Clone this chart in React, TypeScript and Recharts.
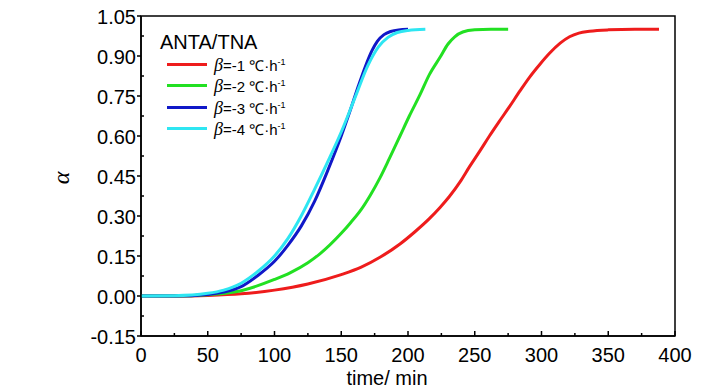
import React from "react";
import {
    LineChart,
    Line,
    XAxis,
    YAxis,
    Legend,
    ReferenceArea
} from "recharts";

// β = -1 ℃/h
const timeR = [0, 25, 50, 75, 100, 125, 150, 165, 179, 194, 205, 216, 224, 231, 239, 246, 254, 261, 268, 276, 284, 291, 299, 306, 314, 321, 328, 336, 350, 370, 388];
const alphaR = [0, 0, 0.002, 0.008, 0.022, 0.045, 0.08, 0.108, 0.145, 0.195, 0.24, 0.29, 0.332, 0.373, 0.428, 0.484, 0.545, 0.6, 0.652, 0.71, 0.77, 0.82, 0.87, 0.91, 0.948, 0.972, 0.986, 0.993, 0.998, 1.0, 1.0];
// β = -2 ℃/h
const timeG = [0, 25, 50, 75, 100, 112, 125, 134, 150, 157, 165, 172, 179, 186, 194, 201, 209, 216, 224, 230, 235, 241, 250, 262, 275];
const alphaG = [0, 0, 0.005, 0.02, 0.062, 0.088, 0.125, 0.158, 0.235, 0.275, 0.325, 0.38, 0.443, 0.515, 0.6, 0.675, 0.755, 0.83, 0.895, 0.945, 0.972, 0.99, 0.998, 1.0, 1.0];
// β = -3 ℃/h
const timeB = [0, 25, 50, 62, 75, 87, 100, 110, 120, 130, 140, 150, 157, 163, 168, 173, 177, 182, 187, 193, 200];
const alphaB = [0, 0, 0.006, 0.015, 0.035, 0.075, 0.13, 0.19, 0.262, 0.355, 0.472, 0.6, 0.7, 0.79, 0.86, 0.92, 0.955, 0.98, 0.992, 0.998, 1.0];
// β = -4 ℃/h
const timeC = [0, 25, 50, 62, 75, 87, 100, 110, 120, 130, 140, 150, 160, 170, 178, 185, 192, 200, 213];
const alphaC = [0, 0.001, 0.01, 0.022, 0.048, 0.09, 0.15, 0.215, 0.3, 0.4, 0.505, 0.615, 0.74, 0.865, 0.935, 0.97, 0.988, 0.996, 1.0];

const seriesNames = ["β=-1", "β=-2", "β=-3", "β=-4"];
const seriesColors = ["#ee1c1c", "#22e022", "#1018c8", "#2ee6f2"];

const xMajor = [0, 50, 100, 150, 200, 250, 300, 350, 400];
const xMinor = [25, 75, 125, 175, 225, 275, 325, 375];
const yMajor = [-0.15, 0, 0.15, 0.3, 0.45, 0.6, 0.75, 0.9, 1.05];
const yMinor = [-0.075, 0.075, 0.225, 0.375, 0.525, 0.675, 0.825, 0.975];

const toPoints = (ts: number[], as: number[]) => ts.map((t, i) => ({t: t, a: as[i]}));
const seriesData = [
    toPoints(timeR, alphaR),
    toPoints(timeG, alphaG),
    toPoints(timeB, alphaB),
    toPoints(timeC, alphaC)
];

const FONT = "'Liberation Sans', Arial, sans-serif";

const isMajor = (list: number[], v: number) => list.some((m) => Math.abs(m - v) < 1e-6);

const XTick = (props: any) => {
    const {x, y, payload} = props;
    const major = isMajor(xMajor, payload.value);
    return (
        <g>
            <line x1={x} x2={x} y1={y} y2={y - (major ? 5 : 3)} stroke="#000" strokeWidth={1.5}/>
            {major && (
                <text x={x} y={y + 26} textAnchor="middle" fontSize={20} fontFamily={FONT} fill="#000">
                    {payload.value}
                </text>
            )}
        </g>
    );
};

const YTick = (props: any) => {
    const {x, y, payload} = props;
    const major = isMajor(yMajor, payload.value);
    return (
        <g>
            {major
                ? <line x1={x - 4} x2={x} y1={y} y2={y} stroke="#000" strokeWidth={1.5}/>
                : <line x1={x} x2={x + 3} y1={y} y2={y} stroke="#000" strokeWidth={1.5}/>}
            {major && (
                <text x={x - 5} y={y + 8} textAnchor="end" fontSize={20} fontFamily={FONT} fill="#000">
                    {payload.value.toFixed(2)}
                </text>
            )}
        </g>
    );
};

const XTitle = (props: any) => {
    const {viewBox} = props;
    return (
        <text x={viewBox.x + viewBox.width / 2 - 21} y={385} textAnchor="middle" fontSize={20} fontFamily={FONT} fill="#000">
            time/ min
        </text>
    );
};

const LegendBox = () => (
    <div style={{position: "relative", width: 160, height: 120, fontFamily: FONT, color: "#000"}}>
        <div style={{position: "absolute", left: 5, top: 2, fontSize: 20, lineHeight: "24px", whiteSpace: "nowrap"}}>
            ANTA/TNA
        </div>
        {seriesNames.map((n, i) => (
            <div key={n} style={{position: "absolute", left: 0, top: 27 + i * 21.3, height: 20, whiteSpace: "nowrap"}}>
                <div style={{position: "absolute", left: 12, top: 8, width: 40, height: 3, background: seriesColors[i]}}/>
                <div style={{position: "absolute", left: 59, top: 0, fontSize: 15, lineHeight: "20px"}}>
                    <span style={{fontFamily: "'Liberation Serif', serif", fontStyle: "italic", fontSize: 18}}>β</span>
                    {n.slice(1)} ℃·h<sup style={{fontSize: 9, verticalAlign: "6px", lineHeight: 0}}>-1</sup>
                </div>
            </div>
        ))}
    </div>
);

const App = () => {
    return (
        <div style={{position: "absolute", left: 0, top: 0, width: 728, height: 390, background: "#fff"}}>
            <LineChart width={728} height={390} margin={{top: 16, right: 53, bottom: 24, left: 81}}>
                <XAxis type="number" dataKey="t" domain={[0, 400]} ticks={[...xMajor, ...xMinor].sort((a, b) => a - b)}
                       interval={0} tick={<XTick/>} tickLine={false} tickSize={0} tickMargin={0} height={30}
                       allowDataOverflow axisLine={{stroke: "#000", strokeWidth: 1.5}} label={<XTitle/>}/>
                <YAxis type="number" dataKey="a" domain={[-0.15, 1.05]} ticks={[...yMajor, ...yMinor].sort((a, b) => a - b)}
                       interval={0} tick={<YTick/>} tickLine={false} tickSize={0} tickMargin={0} width={60}
                       allowDataOverflow axisLine={{stroke: "#000", strokeWidth: 1.5}}/>
                <ReferenceArea x1={0} x2={400} y1={-0.15} y2={1.05} fill="none" stroke="#000" strokeWidth={1.5}/>
                {seriesData.map((d, i) => (
                    <Line key={seriesNames[i]} data={d} dataKey="a" name={seriesNames[i]} type="monotone"
                          stroke={seriesColors[i]} strokeWidth={3} dot={false} isAnimationActive={false}/>
                ))}
                <Legend layout="vertical" align="center" verticalAlign="middle" content={<LegendBox/>}
                        wrapperStyle={{left: 155, top: 28, width: 160, height: 120}}/>
            </LineChart>
            <div style={{
                position: "absolute", left: 49, top: 164, width: 24, height: 28, lineHeight: "28px",
                textAlign: "center", fontSize: 24, fontStyle: "italic", fontFamily: "'Liberation Serif', serif",
                transform: "rotate(-90deg)"
            }}>
                α
            </div>
        </div>
    );
};

export default App;
